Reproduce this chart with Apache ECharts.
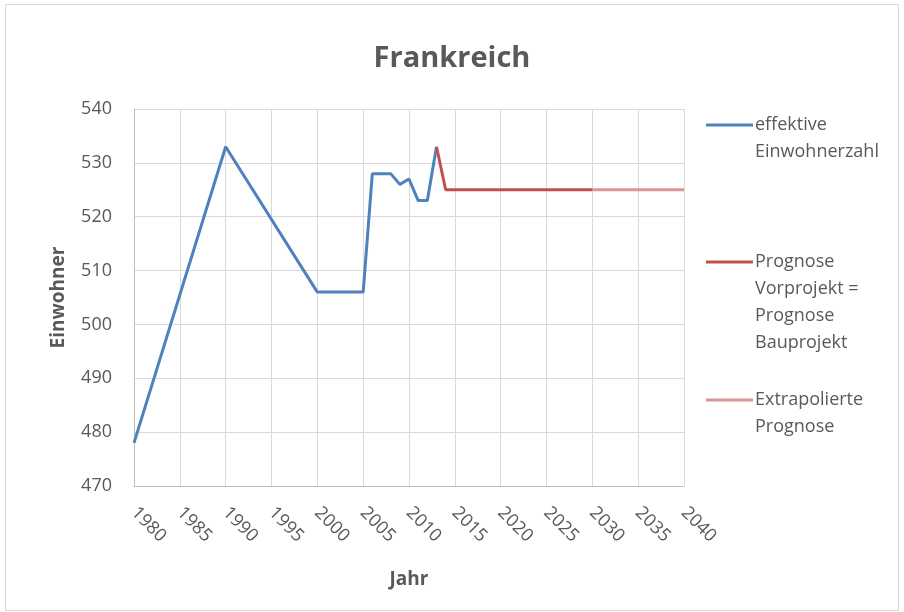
<!DOCTYPE html>
<html>
<head>
<meta charset="utf-8">
<script src="https://cdn.jsdelivr.net/npm/echarts@6/dist/echarts.min.js"></script>
<style>
html,body{margin:0;padding:0;background:#fff;}
#chart{width:904px;height:612px;}
</style>
</head>
<body>
<div id="chart"></div>
<script>
// Einwohnerzahl Frankreich: gemessene Werte, Prognose und Extrapolation
const effektivJahre = [1980, 1990, 2000, 2005, 2006, 2007, 2008, 2009, 2010, 2011, 2012, 2013];
const effektivWerte = [478, 533, 506, 506, 528, 528, 528, 526, 527, 523, 523, 533];

const prognoseJahre = [2013, 2014, 2020, 2025, 2030];
const prognoseWerte = [533, 525, 525, 525, 525];

const extrapolJahre = [2030, 2035, 2040];
const extrapolWerte = [525, 525, 525];

const serienNamen = ['effektive\nEinwohnerzahl', 'Prognose\nVorprojekt =\nPrognose\nBauprojekt', 'Extrapolierte\nPrognose'];
const farben = ['#4F81BD', '#C0504D', '#D99694'];

const zip = (xs, ys) => xs.map((x, i) => [x, ys[i]]);

const FONT = '"Open Sans", sans-serif';
const GRAU = '#595959';

const chart = echarts.init(document.getElementById('chart'));

// Legende rechts: Linienstück neben der ersten Textzeile
const legendGraphics = [];
const legendTop = [125, 262, 400];
serienNamen.forEach((name, i) => {
  legendGraphics.push({
    type: 'line',
    shape: { x1: 706, y1: legendTop[i], x2: 753, y2: legendTop[i] },
    style: { stroke: farben[i], lineWidth: 3 }
  });
  legendGraphics.push({
    type: 'text',
    x: 755,
    y: legendTop[i] - 14,
    style: {
      text: name,
      fill: GRAU,
      font: '18px ' + FONT,
      lineHeight: 27,
      textVerticalAlign: 'top'
    }
  });
});

chart.setOption({
  animation: false,
  backgroundColor: '#fff',
  textStyle: { fontFamily: FONT },
  title: {
    text: 'Frankreich',
    left: 'center',
    top: 39,
    textStyle: { fontSize: 29, fontWeight: 'bold', color: GRAU, fontFamily: FONT }
  },
  grid: { left: 134, right: 220, top: 109, bottom: 126 },
  xAxis: {
    type: 'value',
    min: 1980,
    max: 2040,
    interval: 5,
    name: 'Jahr',
    nameLocation: 'middle',
    nameGap: 84,
    nameTextStyle: { fontSize: 19, fontWeight: 'bold', color: GRAU },
    axisLine: { show: true, lineStyle: { color: '#BFBFBF' } },
    axisTick: { show: false },
    axisLabel: { rotate: -45, fontSize: 18, color: GRAU, margin: 24, formatter: v => String(v) },
    splitLine: { show: true, lineStyle: { color: '#D9D9D9' } }
  },
  yAxis: {
    type: 'value',
    min: 470,
    max: 540,
    interval: 10,
    name: 'Einwohner',
    nameLocation: 'middle',
    nameGap: 66,
    nameTextStyle: { fontSize: 19, fontWeight: 'bold', color: GRAU },
    axisLine: { show: true, lineStyle: { color: '#BFBFBF' } },
    axisTick: { show: false },
    axisLabel: { fontSize: 18, color: GRAU, margin: 22 },
    splitLine: { show: true, lineStyle: { color: '#D9D9D9' } }
  },
  series: [
    {
      name: serienNamen[0], type: 'line', data: zip(effektivJahre, effektivWerte),
      showSymbol: false, lineStyle: { color: farben[0], width: 3 }, z: 3
    },
    {
      name: serienNamen[1], type: 'line', data: zip(prognoseJahre, prognoseWerte),
      showSymbol: false, lineStyle: { color: farben[1], width: 3 }, z: 4
    },
    {
      name: serienNamen[2], type: 'line', data: zip(extrapolJahre, extrapolWerte),
      showSymbol: false, lineStyle: { color: farben[2], width: 3 }, z: 2
    }
  ],
  graphic: [
    {
      type: 'rect',
      shape: { x: 5.5, y: 4.5, width: 893, height: 606 },
      style: { fill: 'none', stroke: '#D9D9D9', lineWidth: 1 },
      silent: true
    }
  ].concat(legendGraphics)
});
</script>
</body>
</html>
